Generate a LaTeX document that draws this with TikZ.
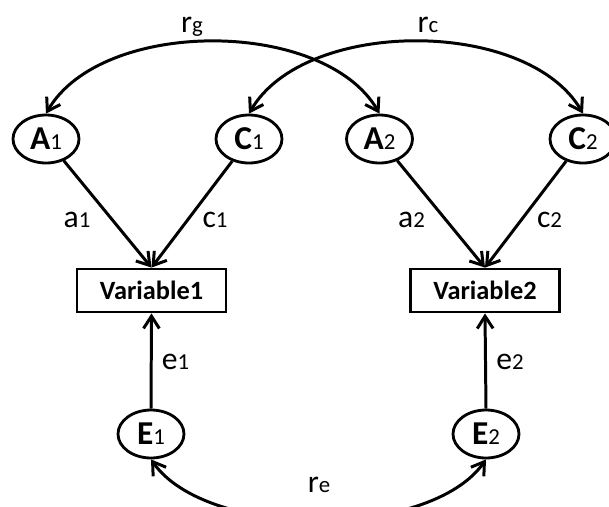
\documentclass[tikz,border=0pt]{standalone}
\usepackage{fontspec}
\setmainfont{Carlito}
\usetikzlibrary{arrows.meta,shapes.geometric}

\newcommand{\lat}[2]{{\bfseries\fontsize{19}{21}\selectfont #1}{\fontsize{13}{14}\selectfont #2}}
\newcommand{\coef}[2]{{\fontsize{18}{20}\selectfont #1}{\fontsize{13}{14}\selectfont #2}}

\begin{document}
\begin{tikzpicture}[
    >={Straight Barb[length=7pt,width=9pt]},
    latent/.style={draw, ellipse, line width=1.6pt, inner sep=0pt, minimum width=1.32cm, minimum height=0.96cm},
    observed/.style={draw, rectangle, line width=1.6pt, inner sep=0pt, minimum width=2.98cm, minimum height=0.86cm, font=\bfseries\fontsize{15}{17}\selectfont},
    path/.style={line width=1.7pt},
    coef/.style={anchor=base}
  ]
    \useasboundingbox (0,0) rectangle (12.18,10.12);

    % 潜变量
    \node[latent] (A1) at (0.92,7.34) {\lat{A}{1}};
    \node[latent] (C1) at (4.98,7.34) {\lat{C}{1}};
    \node[latent] (A2) at (7.59,7.34) {\lat{A}{2}};
    \node[latent] (C2) at (11.66,7.34) {\lat{C}{2}};
    \node[latent] (E1) at (3.02,1.44) {\lat{E}{1}};
    \node[latent] (E2) at (9.72,1.44) {\lat{E}{2}};

    % 观测变量
    \node[observed] (var1) at (3.03,4.31) {Variable1};
    \node[observed] (var2) at (9.70,4.31) {Variable2};

    % 路径
    \draw[path, ->] (A1) -- (var1.north);
    \draw[path, ->] (C1) -- (var1.north);
    \draw[path, ->] (A2) -- (var2.north);
    \draw[path, ->] (C2) -- (var2.north);
    \draw[path, ->] (E1.north) -- (var1.south);
    \draw[path, ->] (E2.north) -- (var2.south);

    % 相关
    \draw[path, <->] (A1.north) to[out=60, in=120, looseness=0.85] (A2.north);
    \draw[path, <->] (C1.north) to[out=60, in=120, looseness=0.85] (C2.north);
    \draw[path, <->] (E1.south) to[out=-55, in=-125, looseness=0.75] (E2.south);

    % 系数
    \node[coef] (la1) at (1.54,5.58) {\coef{a}{1}};
    \node[coef] (lc1) at (4.30,5.58) {\coef{c}{1}};
    \node[coef] (la2) at (8.23,5.58) {\coef{a}{2}};
    \node[coef] (lc2) at (10.99,5.58) {\coef{c}{2}};
    \node[coef] (le1) at (3.51,2.74) {\coef{e}{1}};
    \node[coef] (le2) at (10.20,2.74) {\coef{e}{2}};
    \node[coef] (lrg) at (3.84,9.48) {\coef{r}{g}};
    \node[coef] (lrc) at (8.56,9.48) {\coef{r}{c}};
    \node[coef] (lre) at (6.38,0.28) {\coef{r}{e}};
\end{tikzpicture}
\end{document}
